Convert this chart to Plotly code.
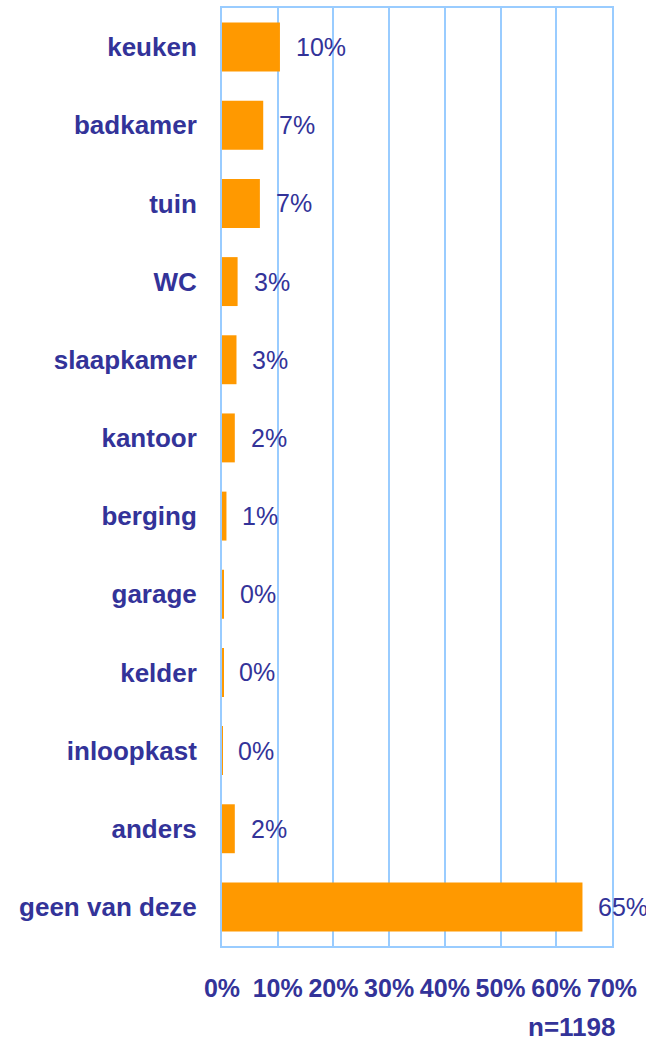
import plotly.graph_objects as go

categories = ["keuken", "badkamer", "tuin", "WC", "slaapkamer", "kantoor",
              "berging", "garage", "kelder", "inloopkast", "anders", "geen van deze"]
values = [10.4, 7.4, 6.8, 2.8, 2.6, 2.3, 0.8, 0.3, 0.2, 0.05, 2.3, 64.7]
value_labels = ["10%", "7%", "7%", "3%", "3%", "2%", "1%", "0%", "0%", "0%", "2%", "65%"]
x_ticks = [0, 10, 20, 30, 40, 50, 60, 70]
note = "n=1198"

TEXT = "#333399"
GRID = "#99CCFF"
FONT = "Liberation Sans, Arial, Helvetica, sans-serif"

fig = go.Figure()
fig.add_trace(go.Bar(
    x=values, y=categories, orientation="h",
    marker=dict(color="#FF9900", line=dict(width=0)),
    hoverinfo="skip",
))

for v, c, t in zip(values, categories, value_labels):
    fig.add_annotation(x=v, y=c, xref="x", yref="y", text=t, showarrow=False,
                       xanchor="left", yanchor="middle", xshift=14,
                       font=dict(family=FONT, size=25, color=TEXT))

fig.add_annotation(x=1.013, y=-0.0862, xref="paper", yref="paper", text="<b>" + note + "</b>",
                   showarrow=False, xanchor="right", yanchor="middle",
                   font=dict(family=FONT, size=26, color=TEXT))

fig.update_layout(
    width=646, height=1039,
    margin=dict(l=222, r=34, t=6, b=93),
    plot_bgcolor="white", paper_bgcolor="white",
    bargap=0.374,
    showlegend=False,
    font=dict(family=FONT, color=TEXT),
)
fig.update_xaxes(
    range=[0, 70], tickvals=x_ticks, ticktext=[f"<b>{t}%</b>" for t in x_ticks],
    showgrid=True, gridcolor=GRID, gridwidth=2,
    showline=True, linecolor=GRID, linewidth=2, mirror=True,
    zeroline=False, ticks="", ticklabelstandoff=19,
    tickfont=dict(family=FONT, size=25, color=TEXT),
)
fig.update_yaxes(
    autorange="reversed", showgrid=False,
    showline=True, linecolor=GRID, linewidth=2, mirror=True,
    ticks="", ticklabelstandoff=18,
    tickvals=categories, ticktext=[f"<b>{c}</b>" for c in categories],
    tickfont=dict(family=FONT, size=26, color=TEXT),
)

fig.write_html("out.html", config={"displayModeBar": False},
               post_script="document.body.style.margin='0';document.body.style.overflow='hidden';")
